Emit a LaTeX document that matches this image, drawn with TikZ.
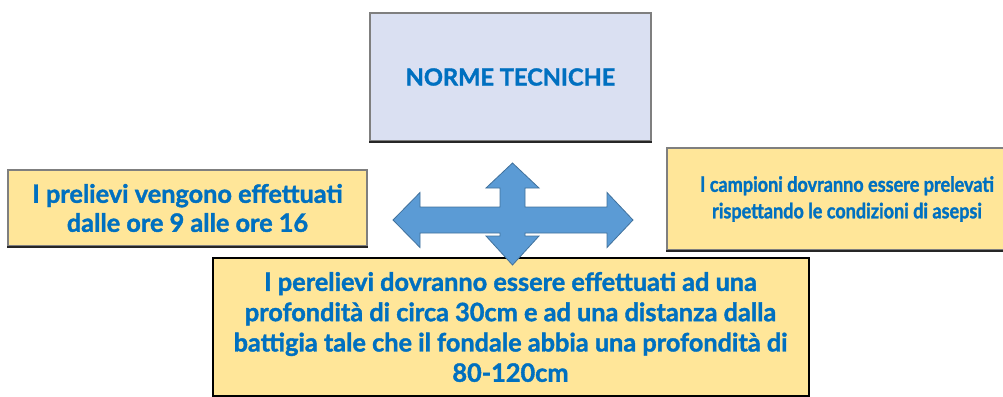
\documentclass[tikz,border=0pt]{standalone}
\usepackage{fontspec}
\setmainfont{Lato}[BoldFeatures={FakeBold=1.5}]
\newfontfamily\condfont{Lato}[FakeStretch=0.86, BoldFeatures={FakeBold=1.4}]
\definecolor{txtblue}{HTML}{0070C0}
\definecolor{arrfill}{HTML}{5B9BD5}
\definecolor{arrdraw}{HTML}{41719C}
\definecolor{lav}{HTML}{DAE0F2}
\definecolor{yel}{HTML}{FFE699}
\definecolor{boxgray}{HTML}{7F7F7F}
\tikzset{
  graybox/.style={draw=boxgray, line width=1.5pt, inner sep=0pt, align=center,
    text=txtblue},
  blackbox/.style={draw=black, line width=2pt, inner sep=0pt, align=center,
    text=txtblue},
}
\begin{document}
\begin{tikzpicture}[x=1pt,y=-1pt]
\useasboundingbox (0,0) rectangle (1003,396);
% top box
\node[graybox, fill=lav, minimum width=281pt, minimum height=128pt,
  font=\fontsize{23.6}{28}\selectfont\bfseries] (norme) at (510.5,77)
  {NORME TECNICHE};
\draw[black!85, line width=1.5pt] (norme.south west) -- (norme.south east);
% left box
\node[graybox, fill=yel, minimum width=359pt, minimum height=76pt,
  font=\fontsize{25.3}{29}\selectfont\bfseries] (orari) at (187.5,208)
  {I prelievi vengono effettuati\\ dalle ore 9 alle ore 16};
\draw[black!85, line width=1.5pt] (orari.south west) -- (orari.south east);
% right box
\node[graybox, fill=yel, minimum width=360pt, minimum height=102pt,
  font=\condfont\fontsize{21}{26.5}\selectfont\bfseries] (asepsi) at (847,199)
  {I campioni dovranno essere prelevati\\ rispettando le condizioni di asepsi};
\draw[black!85, line width=1.5pt] (asepsi.south west) -- (asepsi.south east);
% bottom box
\node[blackbox, fill=yel, minimum width=596pt, minimum height=138pt,
  font=\fontsize{25.3}{30.3}\selectfont\bfseries] (profondita) at (510.5,327)
  {I perelievi dovranno essere effettuati ad una\\
   profondità di circa 30cm e ad una distanza dalla\\
   battigia tale che il fondale abbia una profondità di\\
   80-120cm};
% quad arrow
\draw[fill=arrfill, draw=arrdraw, line width=0.8pt, line join=miter]
  (512.5,163) -- (539,188) -- (525,188) -- (525,207) -- (607,207) -- (607,192.5)
  -- (633,220) -- (607,247.5) -- (607,233) -- (525,233) -- (525,236) -- (539,236)
  -- (512.5,265) -- (486,236) -- (500,236) -- (500,233) -- (420,233) -- (420,247.5)
  -- (393,220) -- (420,192.5) -- (420,207) -- (500,207) -- (500,188) -- (486,188) -- cycle;
\end{tikzpicture}
\end{document}
